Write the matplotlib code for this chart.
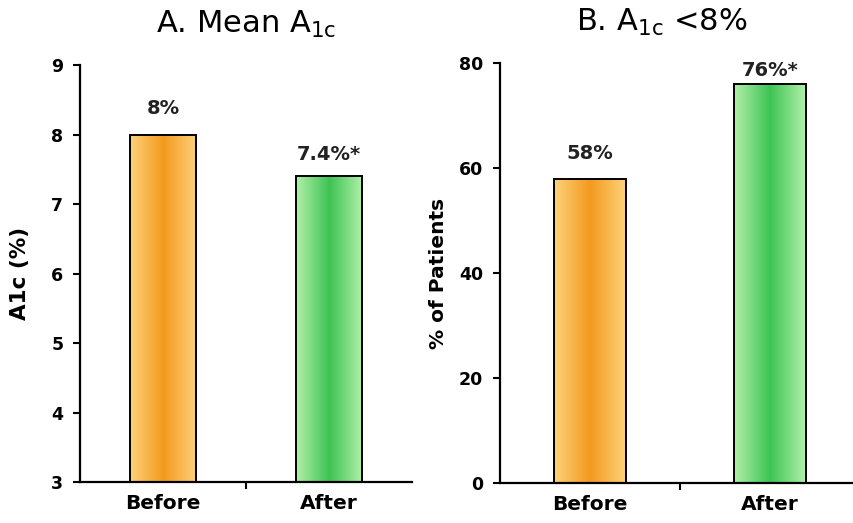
import matplotlib
matplotlib.use("Agg")
import matplotlib.pyplot as plt
import numpy as np
from matplotlib.colors import LinearSegmentedColormap

## DATA ###
categories = ["Before", "After"]
mean_a1c = [8.0, 7.4]
mean_labels = ["8%", "7.4%*"]
pct_under8 = [58, 76]
pct_labels = ["58%", "76%*"]
###########

plt.rcParams['mathtext.default'] = 'regular'
plt.rcParams['font.family'] = ['DejaVu Sans']

orange_cm = LinearSegmentedColormap.from_list("org", ["#fdd27a", "#f39a1e", "#fdd27a"])
green_cm = LinearSegmentedColormap.from_list("grn", ["#b2f0aa", "#3dc453", "#b2f0aa"])
grad = np.linspace(0, 1, 256).reshape(1, -1)


def gradient_bars(ax, values, cmaps, bottom):
    bars = ax.bar(range(len(values)), np.array(values) - bottom, bottom=bottom, width=0.4,
                  facecolor='none', edgecolor='black', linewidth=1.4, zorder=3)
    for bar, cm in zip(bars, cmaps):
        x0, y0 = bar.get_x(), bar.get_y()
        w, h = bar.get_width(), bar.get_height()
        im = ax.imshow(grad, cmap=cm, aspect='auto', extent=[x0, x0 + w, y0, y0 + h], zorder=2)
        im.set_clip_path(bar)
    return bars


def style_axis(ax, ylim, yticks, ylabel, label_size):
    ax.set_xlim(-0.5, 1.5)
    ax.set_ylim(*ylim)
    ax.set_yticks(yticks)
    ax.spines['top'].set_visible(False)
    ax.spines['right'].set_visible(False)
    ax.spines['left'].set_linewidth(1.6)
    ax.spines['bottom'].set_linewidth(1.6)
    ax.set_xticks([0.5])
    ax.set_xticklabels([""])
    ax.set_xticks([0, 1], minor=True)
    ax.set_xticklabels(categories, minor=True, fontsize=14.5, fontweight='bold')
    ax.tick_params(axis='x', which='minor', length=0, pad=9)
    ax.tick_params(axis='x', which='major', length=5, width=1.5, direction='out')
    ax.tick_params(axis='y', length=5, width=1.5, labelsize=12.5, pad=7)
    for lbl in ax.get_yticklabels():
        lbl.set_fontweight('bold')
    ax.set_ylabel(ylabel, fontsize=label_size, fontweight='bold')


def value_labels(ax, values, labels, offsets):
    for i, (v, t, off) in enumerate(zip(values, labels, offsets)):
        ax.annotate(t, (i, v), xytext=(0, off), textcoords='offset points',
                    ha='center', va='bottom', fontsize=14, fontweight='bold', color='#222222')


fig = plt.figure(figsize=[8.54, 5.23], dpi=100)
ax1 = fig.add_axes([0.0937, 0.0784, 0.389, 0.797])
ax2 = fig.add_axes([0.5855, 0.0765, 0.4215, 0.803])

gradient_bars(ax1, mean_a1c, [orange_cm, green_cm], 3)
style_axis(ax1, (3, 9), range(3, 10), "A1c (%)", 15.5)
ax1.yaxis.set_label_coords(-0.15, 0.5)
value_labels(ax1, mean_a1c, mean_labels, [12, 9])
ax1.set_title("A. Mean A$_{1c}$", fontsize=22, pad=23)

gradient_bars(ax2, pct_under8, [orange_cm, green_cm], 0)
style_axis(ax2, (0, 80), range(0, 81, 20), "% of Patients", 14.5)
ax2.yaxis.set_label_coords(-0.145, 0.5)
value_labels(ax2, pct_under8, pct_labels, [11, 3])
ax2.set_title("B. A$_{1c}$ <8%", fontsize=22, pad=23)
ax2.title.set_position((0.45, 1.0))

fig.savefig("out.png", dpi=100)
